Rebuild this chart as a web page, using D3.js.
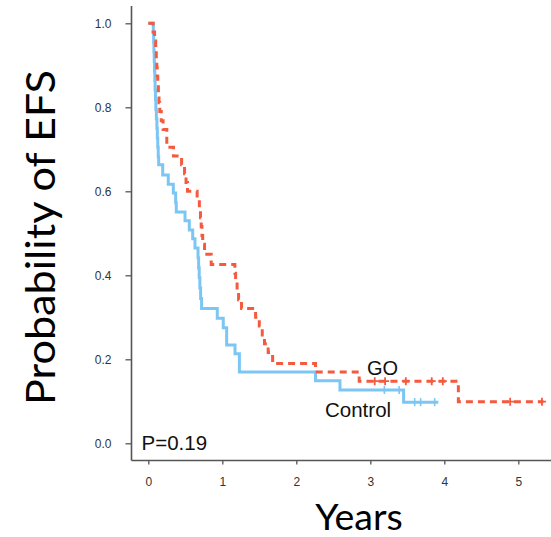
<!DOCTYPE html>
<html>
<head>
<meta charset="utf-8">
<script src="https://cdn.jsdelivr.net/npm/d3@7"></script>
<style>
  body { margin: 0; background: #fff; }
  svg { display: block; }
</style>
</head>
<body>
<svg id="chart" width="551" height="537"></svg>
<script>
// ── Data ────────────────────────────────────────────
const xTicks = [0, 1, 2, 3, 4, 5];
const yTicks = [0, 0.2, 0.4, 0.6, 0.8, 1.0];

// Control arm: event times (years) and survival after each drop
const controlTimes = [0.068, 0.072, 0.076, 0.080, 0.084, 0.088, 0.092, 0.097, 0.102, 0.109,
  0.116, 0.122, 0.128, 0.134, 0.140, 0.195, 0.27, 0.338, 0.370, 0.378,
  0.496, 0.554, 0.600, 0.631, 0.672, 0.680, 0.688, 0.697, 0.707, 0.720,
  0.932, 1.013, 1.059, 1.172, 1.231, 2.26, 2.59, 3.45];
const controlSurv = [0.977, 0.955, 0.932, 0.909, 0.886, 0.864, 0.841, 0.818, 0.795, 0.773,
  0.750, 0.727, 0.705, 0.682, 0.663, 0.639, 0.617, 0.596, 0.573, 0.551,
  0.530, 0.508, 0.487, 0.465, 0.442, 0.418, 0.394, 0.370, 0.345, 0.321,
  0.298, 0.275, 0.234, 0.213, 0.170, 0.149, 0.127, 0.098];
const controlCensor = [3.19, 3.39, 3.60, 3.68, 3.87];
const controlEnd = 3.92;

// GO arm
const goTimes = [0.065, 0.085, 0.100, 0.108, 0.115, 0.120, 0.128, 0.136, 0.145, 0.155,
  0.175, 0.200, 0.250, 0.340, 0.450, 0.490, 0.510, 0.530, 0.660, 0.690,
  0.705, 0.715, 0.725, 0.735, 0.760, 0.850, 1.170, 1.180, 1.200, 1.220,
  1.260, 1.450, 1.500, 1.540, 1.570, 1.620, 1.680, 2.26, 2.85, 4.19];
const goSurv = [0.979, 0.958, 0.937, 0.916, 0.895, 0.874, 0.853, 0.832, 0.811, 0.790,
  0.768, 0.747, 0.705, 0.684, 0.663, 0.642, 0.621, 0.600, 0.579, 0.558,
  0.537, 0.516, 0.495, 0.474, 0.450, 0.426, 0.405, 0.384, 0.363, 0.342,
  0.321, 0.300, 0.279, 0.258, 0.237, 0.216, 0.190, 0.170, 0.148, 0.099];
const goCensor = [3.06, 3.20, 3.48, 3.83, 3.98, 4.89, 5.32];
const goEnd = 5.34;

// ── Setup ──────────────────────────────────────────
const svg = d3.select('#chart');
const axisX = 131.5;
const axisY = 460.5;

const x = d3.scaleLinear().domain([0, 5]).range([148.3, 518.3]);
const y = d3.scaleLinear().domain([0, 1]).range([443.3, 23.3]);

const blue = '#7cc6f4';
const red  = '#f45a3e';

// ── Axes ───────────────────────────────────────────
const yAxis = svg.append('g')
  .attr('transform', `translate(${axisX},0)`)
  .call(d3.axisLeft(y).tickValues(yTicks).tickSize(6).tickPadding(14)
    .tickFormat(d3.format('.1f')));
const xAxis = svg.append('g')
  .attr('transform', `translate(0,${axisY})`)
  .call(d3.axisBottom(x).tickValues(xTicks).tickSize(4).tickPadding(13)
    .tickFormat(d3.format('d')));

[yAxis, xAxis].forEach(g => {
  g.select('.domain').remove();
  g.selectAll('line').attr('stroke', '#555').attr('stroke-width', 1.3);
  g.selectAll('text')
    .attr('font-family', 'Liberation Sans, Arial, sans-serif')
    .attr('font-size', 12)
    .attr('fill', '#333');
});

svg.append('line')
  .attr('x1', axisX).attr('x2', axisX).attr('y1', 6).attr('y2', axisY)
  .attr('stroke', '#555').attr('stroke-width', 1.6);
svg.append('line')
  .attr('x1', axisX).attr('x2', 551).attr('y1', axisY).attr('y2', axisY)
  .attr('stroke', '#555').attr('stroke-width', 1.6);

// ── KM curves ──────────────────────────────────────
function kmPoints(times, surv, end) {
  const pts = [[0, 1]];
  times.forEach((t, i) => pts.push([t, surv[i]]));
  pts.push([end, surv[surv.length - 1]]);
  return pts;
}
function survAt(times, surv, t) {
  let s = 1;
  times.forEach((tt, i) => { if (tt <= t) s = surv[i]; });
  return s;
}

const line = d3.line()
  .x(d => x(d[0]))
  .y(d => y(d[1]))
  .curve(d3.curveStepAfter);

svg.append('path')
  .datum(kmPoints(controlTimes, controlSurv, controlEnd))
  .attr('d', line)
  .attr('fill', 'none')
  .attr('stroke', blue)
  .attr('stroke-width', 3);

svg.append('path')
  .datum(kmPoints(goTimes, goSurv, goEnd))
  .attr('d', line)
  .attr('fill', 'none')
  .attr('stroke', red)
  .attr('stroke-width', 3)
  .attr('stroke-dasharray', '7,5');

// censor marks
svg.selectAll('.cens-c')
  .data(controlCensor)
  .enter().append('line')
  .attr('class', 'cens-c')
  .attr('x1', d => x(d)).attr('x2', d => x(d))
  .attr('y1', d => y(survAt(controlTimes, controlSurv, d)) - 4)
  .attr('y2', d => y(survAt(controlTimes, controlSurv, d)) + 4)
  .attr('stroke', blue).attr('stroke-width', 1.6);

svg.selectAll('.cens-g')
  .data(goCensor)
  .enter().append('path')
  .attr('class', 'cens-g')
  .attr('d', d => {
    const cx = x(d), cy = y(survAt(goTimes, goSurv, d));
    return `M${cx},${cy - 4}V${cy + 4}M${cx - 4},${cy}H${cx + 4}`;
  })
  .attr('stroke', red).attr('stroke-width', 1.8);

// ── Labels ─────────────────────────────────────────
const arial = 'Liberation Sans, Arial, sans-serif';
svg.append('text')
  .attr('x', 367).attr('y', 375)
  .attr('font-family', arial).attr('font-size', 20).attr('fill', '#111')
  .text('GO');
svg.append('text')
  .attr('x', 325).attr('y', 416.5)
  .attr('font-family', arial).attr('font-size', 20.5).attr('fill', '#111')
  .text('Control');
svg.append('text')
  .attr('x', 141.5).attr('y', 450)
  .attr('font-family', arial).attr('font-size', 20.5).attr('fill', '#111')
  .text('P=0.19');

svg.append('text')
  .attr('transform', 'translate(55,237.5) rotate(-90)')
  .attr('text-anchor', 'middle')
  .attr('font-family', 'Lato, Carlito, sans-serif')
  .attr('font-size', 40)
  .attr('textLength', 335)
  .attr('lengthAdjust', 'spacingAndGlyphs')
  .attr('fill', '#000')
  .text('Probability of EFS');

svg.append('text')
  .attr('x', 359).attr('y', 530)
  .attr('text-anchor', 'middle')
  .attr('font-family', 'Lato, Carlito, sans-serif')
  .attr('font-size', 37.5)
  .attr('fill', '#000')
  .text('Years');
</script>
</body>
</html>
